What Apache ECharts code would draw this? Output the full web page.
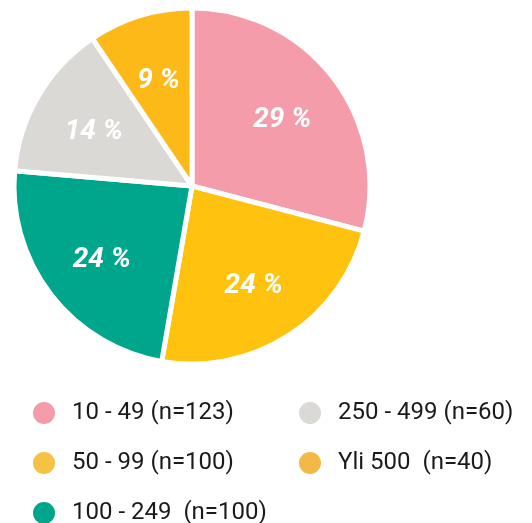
<!DOCTYPE html>
<html>
<head>
<meta charset="utf-8">
<script src="https://cdn.jsdelivr.net/npm/echarts@6/dist/echarts.min.js"></script>
<style>
  html, body { margin: 0; padding: 0; background: #fff; }
  #chart { width: 532px; height: 523px; }
</style>
</head>
<body>
<div id="chart"></div>
<script>
// kokoluokat ja vastaajamäärät
const categories = ['10 - 49 (n=123)', '50 - 99 (n=100)', '100 - 249  (n=100)', '250 - 499 (n=60)', 'Yli 500  (n=40)'];
const counts = [123, 100, 100, 60, 40];
const colors = ['#F49CA9', '#FFC20F', '#00A68B', '#DAD9D5', '#FDB917'];
const legendColors = ['#F49CA9', '#F5C243', '#00A68B', '#DAD9D5', '#F2B946'];

let myChart = echarts.init(document.getElementById('chart'));

let pieData = categories.map((name, i) => ({
  name: name,
  value: counts[i],
  itemStyle: { color: colors[i] }
}));

let legendItems = (names) => names.map(n => ({
  name: n,
  itemStyle: { color: legendColors[categories.indexOf(n)] }
}));

let legendText = {
  fontFamily: 'Roboto',
  fontSize: 24,
  lineHeight: 24,
  color: '#1a1a1a',
  padding: [0, 0, 0, 11]
};

let legendBase = {
  orient: 'vertical',
  top: 400,
  height: 300,
  padding: 0,
  icon: 'circle',
  itemWidth: 24,
  itemHeight: 24,
  itemGap: 24,
  selectedMode: false,
  textStyle: legendText
};

let option = {
  backgroundColor: '#fff',
  animation: false,
  legend: [
    Object.assign({}, legendBase, { left: 31, data: legendItems(categories.slice(0, 3)) }),
    Object.assign({}, legendBase, { left: 297, data: legendItems(categories.slice(3)) })
  ],
  series: [
    {
      type: 'pie',
      center: [192, 186],
      radius: [0, 178],
      startAngle: 90,
      clockwise: true,
      silent: true,
      itemStyle: { borderColor: '#fff', borderWidth: 5 },
      label: { show: false },
      labelLine: { show: false },
      data: pieData
    },
    {
      // läpinäkyvä sarja prosenttitekstejä varten
      type: 'pie',
      center: [192, 186],
      radius: [44, 178],
      startAngle: 90,
      clockwise: true,
      silent: true,
      percentPrecision: 0,
      itemStyle: { color: 'rgba(0,0,0,0)', borderWidth: 0 },
      label: {
        show: true,
        position: 'inside',
        formatter: '{d} %',
        offset: [0, 4],
        color: '#fff',
        fontFamily: 'Roboto',
        fontStyle: 'italic',
        fontWeight: 'bold',
        fontSize: 28
      },
      labelLine: { show: false },
      data: categories.map((name, i) => ({ name: name, value: counts[i] }))
    }
  ]
};

myChart.setOption(option);
</script>
</body>
</html>
